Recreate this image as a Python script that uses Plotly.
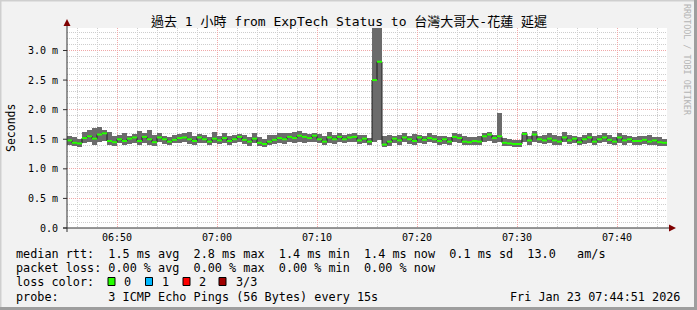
import datetime as dt
import plotly.graph_objects as go

# ---------------- data ----------------
start_time = dt.datetime(2026, 1, 23, 6, 45, 0)
step_seconds = 30

median_ms = [1.48, 1.44, 1.43, 1.52, 1.55, 1.51, 1.58, 1.60, 1.47, 1.45,
             1.50, 1.47, 1.51, 1.53, 1.47, 1.54, 1.50, 1.45, 1.53, 1.50,
             1.46, 1.49, 1.52, 1.53, 1.50, 1.47, 1.53, 1.50, 1.46, 1.51,
             1.48, 1.52, 1.47, 1.50, 1.54, 1.49, 1.46, 1.51, 1.44, 1.42,
             1.46, 1.49, 1.52, 1.50, 1.54, 1.52, 1.56, 1.54, 1.52, 1.56,
             1.50, 1.46, 1.53, 1.50, 1.54, 1.50, 1.53, 1.54, 1.48, 1.51,
             1.46, 2.50, 2.81, 1.41, 1.46, 1.51, 1.48, 1.53, 1.50, 1.47,
             1.53, 1.49, 1.52, 1.50, 1.47, 1.50, 1.46, 1.54, 1.52, 1.46,
             1.45, 1.47, 1.46, 1.55, 1.58, 1.52, 1.55, 1.44, 1.43, 1.42,
             1.42, 1.59, 1.48, 1.58, 1.50, 1.48, 1.51, 1.48, 1.46, 1.53,
             1.48, 1.51, 1.45, 1.50, 1.53, 1.46, 1.50, 1.53, 1.49, 1.46,
             1.53, 1.48, 1.50, 1.47, 1.47, 1.49, 1.46, 1.48, 1.45, 1.44]

min_ms = [1.41, 1.38, 1.37, 1.44, 1.45, 1.41, 1.46, 1.47, 1.40, 1.38,
          1.43, 1.41, 1.42, 1.44, 1.40, 1.43, 1.41, 1.38, 1.45, 1.42,
          1.40, 1.43, 1.44, 1.45, 1.42, 1.40, 1.44, 1.43, 1.40, 1.43,
          1.42, 1.44, 1.40, 1.43, 1.45, 1.42, 1.39, 1.43, 1.38, 1.37,
          1.40, 1.42, 1.44, 1.42, 1.45, 1.44, 1.46, 1.44, 1.45, 1.46,
          1.43, 1.40, 1.44, 1.42, 1.45, 1.43, 1.45, 1.45, 1.42, 1.44,
          1.40, 1.45, 1.48, 1.37, 1.39, 1.43, 1.41, 1.45, 1.42, 1.40,
          1.44, 1.42, 1.45, 1.43, 1.41, 1.42, 1.40, 1.45, 1.44, 1.40,
          1.40, 1.41, 1.40, 1.46, 1.47, 1.43, 1.45, 1.39, 1.38, 1.37,
          1.37, 1.46, 1.41, 1.46, 1.43, 1.42, 1.43, 1.41, 1.40, 1.45,
          1.42, 1.43, 1.40, 1.42, 1.44, 1.40, 1.43, 1.45, 1.42, 1.40,
          1.44, 1.41, 1.43, 1.41, 1.41, 1.42, 1.40, 1.41, 1.39, 1.39]

max_ms = [1.56, 1.53, 1.50, 1.63, 1.66, 1.69, 1.71, 1.65, 1.62, 1.56,
          1.57, 1.60, 1.55, 1.59, 1.64, 1.61, 1.66, 1.57, 1.60, 1.56,
          1.54, 1.57, 1.59, 1.60, 1.62, 1.56, 1.59, 1.57, 1.54, 1.62,
          1.56, 1.60, 1.55, 1.58, 1.59, 1.57, 1.54, 1.60, 1.54, 1.51,
          1.57, 1.58, 1.61, 1.60, 1.61, 1.63, 1.64, 1.60, 1.59, 1.61,
          1.59, 1.55, 1.62, 1.58, 1.61, 1.58, 1.59, 1.61, 1.58, 1.57,
          1.52, 3.50, 3.50, 1.55, 1.57, 1.56, 1.57, 1.60, 1.56, 1.59,
          1.57, 1.55, 1.60, 1.58, 1.56, 1.55, 1.54, 1.60, 1.59, 1.55,
          1.53, 1.54, 1.56, 1.61, 1.63, 1.58, 1.95, 1.52, 1.50, 1.48,
          1.49, 1.63, 1.56, 1.64, 1.56, 1.57, 1.60, 1.58, 1.55, 1.62,
          1.57, 1.55, 1.53, 1.58, 1.61, 1.55, 1.57, 1.60, 1.58, 1.53,
          1.61, 1.57, 1.55, 1.53, 1.56, 1.56, 1.57, 1.53, 1.53, 1.50]

y_tick_values = [0.0, 0.5, 1.0, 1.5, 2.0, 2.5, 3.0]
y_tick_labels = ["0.0", "0.5 m", "1.0 m", "1.5 m", "2.0 m", "2.5 m", "3.0 m"]

title_text = "過去 1 小時 from ExpTech Status to 台灣大哥大-花蓮 延遲"
legend_lines = [
    "median rtt:  1.5 ms avg  2.8 ms max  1.4 ms min  1.4 ms now  0.1 ms sd  13.0   am/s",
    "packet loss: 0.00 % avg  0.00 % max  0.00 % min  0.00 % now",
    "loss color:",
    "probe:       3 ICMP Echo Pings (56 Bytes) every 15s",
]
loss_labels = ["0", "1", "2", "3/3"]
loss_colors = ["#26ff00", "#00b8ff", "#ff0000", "#a00000"]
stamp_text = "Fri Jan 23 07:44:51 2026"
watermark = "RRDTOOL / TOBI OETIKER"

# ---------------- geometry ----------------
W, H = 697, 310
L, R, T, B = 67, 30, 28, 82
PW, PH = W - L - R, H - T - B
Y_MAX = 3.38


def px(x):
    return (x - L) / PW


def py(y):
    return (T + PH - y) / PH


step = dt.timedelta(seconds=step_seconds)
starts = [start_time + i * step for i in range(len(median_ms))]
ends = [s + step for s in starts]
centers = [s + step / 2 for s in starts]

MONO = "DejaVu Sans Mono, Noto Sans CJK TC, monospace"
fig = go.Figure()

# smoke (min..max band)
fig.add_trace(go.Bar(
    x=centers, base=min_ms, y=[hi - lo for hi, lo in zip(max_ms, min_ms)],
    width=step_seconds * 1000, marker=dict(color="#6b6b6b", line=dict(width=0)),
    hoverinfo="skip"))

# median step (dark verticals)
fig.add_trace(go.Scatter(
    x=starts + [ends[-1]], y=median_ms + [median_ms[-1]], mode="lines",
    line=dict(color="#202020", width=1, shape="hv"), hoverinfo="skip"))

# median horizontal segments in loss colour
seg_x, seg_y = [], []
for s, e, m in zip(starts, ends, median_ms):
    seg_x += [s, e, None]
    seg_y += [m, m, None]
fig.add_trace(go.Scatter(x=seg_x, y=seg_y, mode="lines",
                         line=dict(color=loss_colors[0], width=2), hoverinfo="skip"))

shapes = []
# axes lines
shapes.append(dict(type="line", xref="paper", yref="paper", x0=px(63), x1=px(671),
                   y0=0, y1=0, line=dict(color="#303030", width=1)))
shapes.append(dict(type="line", xref="paper", yref="paper", x0=0, x1=0,
                   y0=py(232), y1=py(24), line=dict(color="#303030", width=1)))
# arrows
shapes.append(dict(type="path", xref="paper", yref="paper",
                   path=f"M {px(63.5)},{py(26)} L {px(70.5)},{py(26)} L {px(67)},{py(19)} Z",
                   fillcolor="#7f0000", line=dict(width=0)))
shapes.append(dict(type="path", xref="paper", yref="paper",
                   path=f"M {px(669)},{py(224.5)} L {px(669)},{py(231.5)} L {px(676)},{py(228)} Z",
                   fillcolor="#7f0000", line=dict(width=0)))
# y major ticks
for v in y_tick_values:
    yy = v / Y_MAX
    shapes.append(dict(type="line", xref="paper", yref="paper", x0=px(63), x1=px(67),
                       y0=yy, y1=yy, line=dict(color="#303030", width=1)))
# loss colour boxes
box_lefts = [108, 145.5, 183, 219]
for bl, c in zip(box_lefts, loss_colors):
    shapes.append(dict(type="rect", xref="paper", yref="paper", x0=px(bl), x1=px(bl + 7),
                       y0=py(285.5), y1=py(277.5), fillcolor=c,
                       line=dict(color="#000000", width=1)))
# frame
shapes.append(dict(type="line", xref="paper", yref="paper", x0=px(0), x1=px(W),
                   y0=py(0.5), y1=py(0.5), line=dict(color="#cfcfcf", width=2)))
shapes.append(dict(type="line", xref="paper", yref="paper", x0=px(0.5), x1=px(0.5),
                   y0=py(0), y1=py(H), line=dict(color="#cfcfcf", width=2)))
shapes.append(dict(type="line", xref="paper", yref="paper", x0=px(0), x1=px(W),
                   y0=py(H - 1.5), y1=py(H - 1.5), line=dict(color="#9e9e9e", width=3)))
shapes.append(dict(type="line", xref="paper", yref="paper", x0=px(W - 1.5), x1=px(W - 1.5),
                   y0=py(0), y1=py(H), line=dict(color="#9e9e9e", width=3)))

annotations = []


def txt(x, y, s, size=11.8, anchor="left", color="#000000", angle=0):
    annotations.append(dict(xref="paper", yref="paper", x=px(x), y=py(y),
                            text=s.replace(" ", "\u00a0"), showarrow=False,
                            xanchor=anchor, yanchor="middle", textangle=angle,
                            font=dict(family=MONO, size=size, color=color),
                            borderpad=0))


txt(349, 21, title_text, size=13, anchor="center")
txt(11, 128, "Seconds", size=11.5, anchor="center", angle=-90)
line_ys = [254, 268, 282, 296.5]
for s, yy in zip(legend_lines, line_ys):
    txt(15, yy, s)
label_lefts = [122.5, 160.5, 198, 234.5]
for lx, lab in zip(label_lefts, loss_labels):
    txt(lx, 282, lab)
txt(681, 296.5, stamp_text, anchor="right")
txt(687, 60, watermark, size=8.4, anchor="center", color="#b4b4b4", angle=90)

fig.update_layout(
    width=W, height=H,
    margin=dict(l=L, r=R, t=T, b=B, pad=0),
    paper_bgcolor="#f2f2f2", plot_bgcolor="#ffffff",
    showlegend=False, bargap=0, barmode="overlay",
    shapes=shapes, annotations=annotations,
    xaxis=dict(
        type="date",
        range=[start_time, start_time + dt.timedelta(hours=1)],
        tickformat="%H:%M", dtick=600000, tick0="2026-01-23 06:50:00",
        showgrid=True, gridcolor="#f0a8a8", griddash="1px,1px", gridwidth=1,
        minor=dict(dtick=120000, tick0="2026-01-23 06:50:00", showgrid=True,
                   gridcolor="#cdcdcd", griddash="1px,1px", gridwidth=1),
        showline=False, zeroline=False, ticks="", ticklabelstandoff=2,
        tickfont=dict(family=MONO, size=10, color="#000000"),
    ),
    yaxis=dict(
        range=[0, Y_MAX], tickvals=y_tick_values, ticktext=y_tick_labels,
        showgrid=True, gridcolor="#f0a8a8", griddash="1px,1px", gridwidth=1,
        minor=dict(dtick=0.1, tick0=0, showgrid=True,
                   gridcolor="#cdcdcd", griddash="1px,1px", gridwidth=1),
        showline=False, zeroline=False, ticks="", ticklabelstandoff=8,
        tickfont=dict(family=MONO, size=10, color="#000000"),
    ),
)

fig.write_html("out.html")
